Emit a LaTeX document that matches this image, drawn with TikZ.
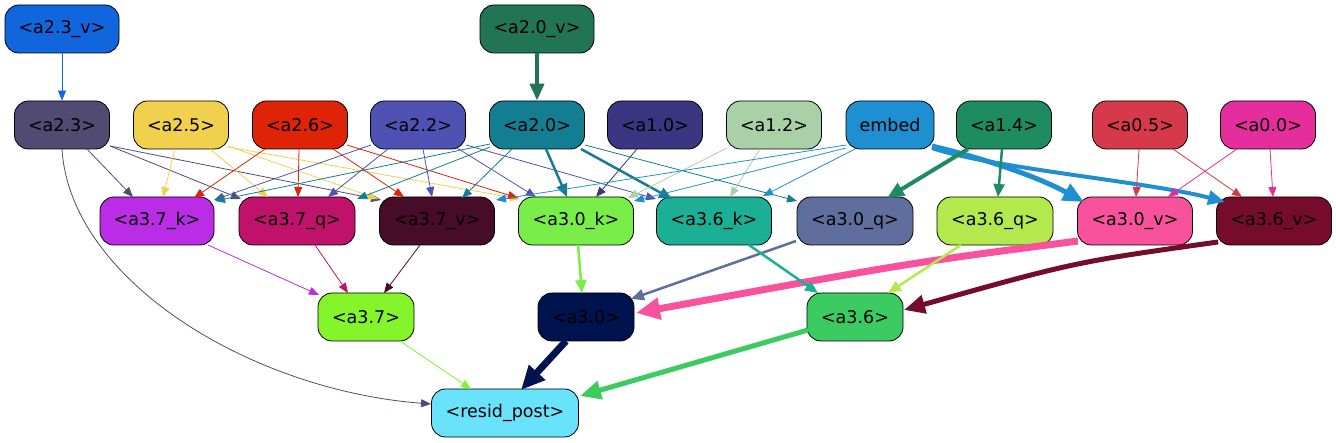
\documentclass[tikz,border=0pt]{standalone}
\usepackage{fontspec}
\setmainfont{DejaVu Sans}
\usetikzlibrary{arrows.meta}
\definecolor{c23v}{HTML}{1166DD}
\definecolor{c20v}{HTML}{217556}
\definecolor{c23}{HTML}{514A72}
\definecolor{c25}{HTML}{F0D04C}
\definecolor{c26}{HTML}{DE2306}
\definecolor{c22}{HTML}{4F52B2}
\definecolor{c20}{HTML}{137D91}
\definecolor{c10}{HTML}{3A3682}
\definecolor{c12}{HTML}{A9D0A6}
\definecolor{cemb}{HTML}{1E8FD0}
\definecolor{c14}{HTML}{1E8C60}
\definecolor{c05}{HTML}{D6394A}
\definecolor{c00}{HTML}{E52D9B}
\definecolor{c37k}{HTML}{BB2CE6}
\definecolor{c37q}{HTML}{C0126A}
\definecolor{c37v}{HTML}{470C28}
\definecolor{c30k}{HTML}{7AEE48}
\definecolor{c36k}{HTML}{1BAF95}
\definecolor{c30q}{HTML}{5F6E9C}
\definecolor{c36q}{HTML}{B4E94E}
\definecolor{c30v}{HTML}{F8529C}
\definecolor{c36v}{HTML}{760C2B}
\definecolor{c37}{HTML}{84F52A}
\definecolor{c30}{HTML}{00134E}
\definecolor{c36}{HTML}{3CCB60}
\definecolor{cres}{HTML}{69E3FC}
\begin{document}
\begin{tikzpicture}[x=1pt,y=-1pt,
  box/.style={draw=black, line width=0.8pt, rounded corners=14pt, minimum height=48pt, inner sep=0pt, font=\fontsize{17.5}{21}\selectfont, text=black},
  e/.style={line width=0.8pt, -{Triangle[length=10pt,width=8pt]}},
  eb/.style={line width=2.5pt, -{Triangle[length=13pt,width=11pt]}},
  ec/.style={line width=4pt, -{Triangle[length=17pt,width=14pt]}},
  ed/.style={line width=5pt, -{Triangle[length=21pt,width=18pt]}},
  ee/.style={line width=7pt, -{Triangle[length=24pt,width=21pt]}},
]
\useasboundingbox (0,0) rectangle (1336,443);
% row 0
\node[box, fill=c23v, minimum width=114pt] (a23v) at (62,29) {<a2.3\_v>};
\node[box, fill=c20v, minimum width=114pt] (a20v) at (537,29) {<a2.0\_v>};
% row 1
\node[box, fill=c23, minimum width=95pt] (a23) at (62,125) {<a2.3>};
\node[box, fill=c25, minimum width=95pt] (a25) at (181,125) {<a2.5>};
\node[box, fill=c26, minimum width=95pt] (a26) at (300,125) {<a2.6>};
\node[box, fill=c22, minimum width=95pt] (a22) at (418,125) {<a2.2>};
\node[box, fill=c20, minimum width=95pt] (a20) at (537,125) {<a2.0>};
\node[box, fill=c10, minimum width=95pt] (a10) at (655,125) {<a1.0>};
\node[box, fill=c12, minimum width=95pt] (a12) at (774,125) {<a1.2>};
\node[box, fill=cemb, minimum width=88pt] (emb) at (890,125) {embed};
\node[box, fill=c14, minimum width=95pt] (a14) at (1004,125) {<a1.4>};
\node[box, fill=c05, minimum width=95pt] (a05) at (1140,125) {<a0.5>};
\node[box, fill=c00, minimum width=95pt] (a00) at (1268,125) {<a0.0>};
% row 2
\node[box, fill=c37k, minimum width=114pt] (a37k) at (157,221) {<a3.7\_k>};
\node[box, fill=c37q, minimum width=116pt] (a37q) at (297,221) {<a3.7\_q>};
\node[box, fill=c37v, minimum width=115pt] (a37v) at (437,221) {<a3.7\_v>};
\node[box, fill=c30k, minimum width=115pt] (a30k) at (576,221) {<a3.0\_k>};
\node[box, fill=c36k, minimum width=115pt] (a36k) at (714,221) {<a3.6\_k>};
\node[box, fill=c30q, minimum width=116pt] (a30q) at (855,221) {<a3.0\_q>};
\node[box, fill=c36q, minimum width=116pt] (a36q) at (995,221) {<a3.6\_q>};
\node[box, fill=c30v, minimum width=115pt] (a30v) at (1135,221) {<a3.0\_v>};
\node[box, fill=c36v, minimum width=115pt] (a36v) at (1274,221) {<a3.6\_v>};
% row 3
\node[box, fill=c37, minimum width=96pt] (a37) at (366,317) {<a3.7>};
\node[box, fill=c30, minimum width=96pt] (a30) at (586,317) {<a3.0>};
\node[box, fill=c36, minimum width=96pt] (a36) at (855,317) {<a3.6>};
% row 4
\node[box, fill=cres, minimum width=147pt] (res) at (505,413) {<resid\_post>};

% row0 -> row1
\draw[e, c23v] (a23v.south) -- (a23.north);
\draw[ec, c20v] (a20v.south) -- (a20.north);
% a2.3
\draw[e, c23] ([shift={(25,24)}]a23.center) -- ([shift={(-24,-24)}]a37k.center);
\draw[e, c23] ([shift={(48,21)}]a23.center) -- ([shift={(-56,-22)}]a37q.center);
\draw[e, c23] ([shift={(48,21)}]a23.center) -- ([shift={(-56,-21)}]a37v.center);
\draw[e, c23] ([shift={(0,24)}]a23.center) .. controls (70,280) and (250,390) .. ([shift={(-74,-9)}]res.center);
% a2.5
\draw[e, c25] ([shift={(-6,24)}]a25.center) -- ([shift={(6,-24)}]a37k.center);
\draw[e, c25] ([shift={(29,24)}]a25.center) -- ([shift={(-29,-24)}]a37q.center);
\draw[e, c25] ([shift={(47,21)}]a25.center) -- ([shift={(-59,-22)}]a37v.center);
\draw[e, c25] ([shift={(47,22)}]a25.center) -- ([shift={(-56,-22)}]a30k.center);
% a2.6
\draw[e, c26] ([shift={(-35,24)}]a26.center) -- ([shift={(37,-23)}]a37k.center);
\draw[e, c26] ([shift={(-1,24)}]a26.center) -- ([shift={(1,-24)}]a37q.center);
\draw[e, c26] ([shift={(33,24)}]a26.center) -- ([shift={(-33,-24)}]a37v.center);
\draw[e, c26] ([shift={(47,20)}]a26.center) -- ([shift={(-58,-23)}]a30k.center);
% a2.2
\draw[e, c22] ([shift={(-47,20)}]a22.center) -- ([shift={(57,-21)}]a37k.center);
\draw[e, c22] ([shift={(-30,24)}]a22.center) -- ([shift={(31,-24)}]a37q.center);
\draw[e, c22] ([shift={(5,24)}]a22.center) -- ([shift={(-5,-24)}]a37v.center);
\draw[e, c22] ([shift={(39,23)}]a22.center) -- ([shift={(-40,-24)}]a30k.center);
\draw[e, c22] ([shift={(48,20)}]a22.center) -- ([shift={(-58,-22)}]a36k.center);
% a2.0
\draw[e, c20] ([shift={(-47,19)}]a20.center) -- ([shift={(58,-20)}]a37k.center);
\draw[e, c20] ([shift={(-47,22)}]a20.center) -- ([shift={(60,-22)}]a37q.center);
\draw[e, c20] ([shift={(-25,24)}]a20.center) -- ([shift={(25,-23)}]a37v.center);
\draw[eb, c20] ([shift={(9,24)}]a20.center) -- ([shift={(-9,-24)}]a30k.center);
\draw[eb, c20] ([shift={(44,24)}]a20.center) -- ([shift={(-42,-22)}]a36k.center);
\draw[e, c20] ([shift={(48,20)}]a20.center) -- ([shift={(-58,-20)}]a30q.center);
% a1.0
\draw[e, c10] ([shift={(-18,24)}]a10.center) -- ([shift={(20,-24)}]a30k.center);
% a1.2
\draw[e, c12] ([shift={(-47,23)}]a12.center) -- ([shift={(52,-23)}]a30k.center);
\draw[e, c12] ([shift={(-14,24)}]a12.center) -- ([shift={(16,-24)}]a36k.center);
% embed
\draw[e, cemb] ([shift={(-44,20)}]emb.center) -- ([shift={(59,-21)}]a37v.center);
\draw[e, cemb] ([shift={(-44,23)}]emb.center) -- ([shift={(58,-20)}]a30k.center);
\draw[e, cemb] ([shift={(-35,24)}]emb.center) -- ([shift={(49,-25)}]a36k.center);
\draw[ed, cemb] ([shift={(42,21)}]emb.center) .. controls (990,160) and (1040,178) .. ([shift={(-51,-19)}]a30v.center);
\draw[ec, cemb] ([shift={(42,23)}]emb.center) .. controls (990,168) and (1150,182) .. ([shift={(-49,-19)}]a36v.center);
% a1.4
\draw[ec, c14] ([shift={(-36,24)}]a14.center) -- ([shift={(32,-23)}]a30q.center);
\draw[eb, c14] ([shift={(-2,24)}]a14.center) -- ([shift={(3,-24)}]a36q.center);
% a0.5
\draw[e, c05] ([shift={(-1,24)}]a05.center) -- ([shift={(1,-24)}]a30v.center);
\draw[e, c05] ([shift={(33,24)}]a05.center) -- ([shift={(-32,-24)}]a36v.center);
% a0.0
\draw[e, c00] ([shift={(-31,24)}]a00.center) -- ([shift={(33,-24)}]a30v.center);
\draw[e, c00] ([shift={(2,24)}]a00.center) -- ([shift={(-1,-24)}]a36v.center);
% row2 -> row3
\draw[e, c37k] ([shift={(51,24)}]a37k.center) -- ([shift={(-47,-22)}]a37.center);
\draw[e, c37q] ([shift={(18,24)}]a37q.center) -- ([shift={(-18,-24)}]a37.center);
\draw[e, c37v] ([shift={(-17,24)}]a37v.center) -- ([shift={(18,-24)}]a37.center);
\draw[eb, c30k] ([shift={(2,24)}]a30k.center) -- ([shift={(-4,-24)}]a30.center);
\draw[eb, c30q] ([shift={(-59,20)}]a30q.center) -- ([shift={(45,-18)}]a30.center);
\draw[ee, c30v] ([shift={(-57,20)}]a30v.center) .. controls (909,263) .. ([shift={(50,-4)}]a30.center);
\draw[eb, c36k] ([shift={(35,24)}]a36k.center) -- ([shift={(-37,-24)}]a36.center);
\draw[eb, c36q] ([shift={(-34,24)}]a36q.center) -- ([shift={(33,-24)}]a36.center);
\draw[ed, c36v] ([shift={(-56,21)}]a36v.center) .. controls (1075,262) .. ([shift={(49,-7)}]a36.center);
% row3 -> row4
\draw[e, c37] ([shift={(34,24)}]a37.center) -- ([shift={(-34,-24)}]res.center);
\draw[ee, c30] ([shift={(-20,24)}]a30.center) -- ([shift={(16,-23)}]res.center);
\draw[ed, c36] ([shift={(-47,13)}]a36.center) -- ([shift={(75,-17)}]res.center);
\end{tikzpicture}
\end{document}
